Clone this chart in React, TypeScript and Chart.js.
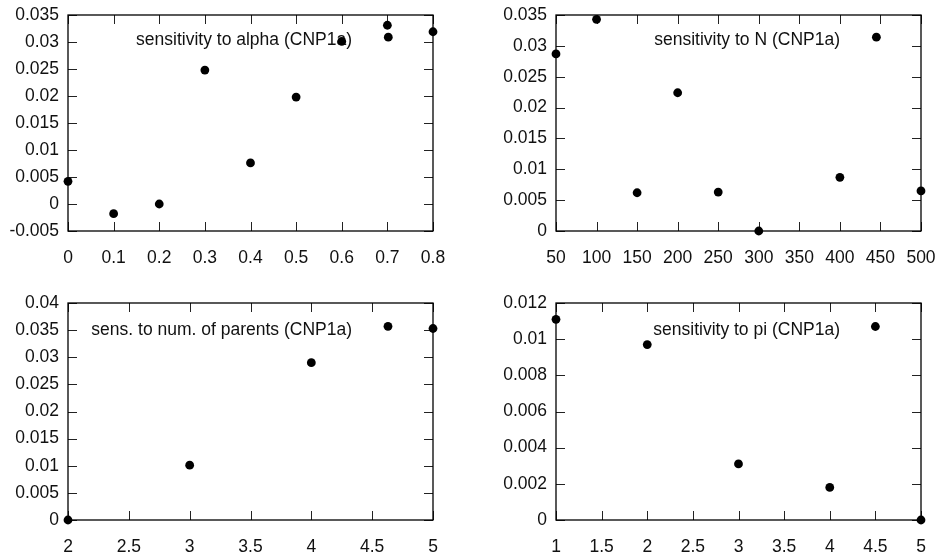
import { useEffect, useRef } from "react";
import { Chart, registerables } from "chart.js";

Chart.register(...registerables);

// ---- data ----
const alphaX = [0, 0.1, 0.2, 0.3, 0.4, 0.5, 0.6, 0.7, 0.702, 0.8];
const alphaY = [0.0042, -0.0018, 0, 0.0248, 0.0076, 0.0198, 0.0301, 0.0331, 0.0309, 0.0319];
const alphaXTicks = [0, 0.1, 0.2, 0.3, 0.4, 0.5, 0.6, 0.7, 0.8];
const alphaYTicks = [-0.005, 0, 0.005, 0.01, 0.015, 0.02, 0.025, 0.03, 0.035];

const nX = [50, 100, 150, 200, 250, 300, 400, 445, 500];
const nY = [0.0287, 0.0343, 0.0062, 0.0224, 0.0063, 0, 0.0087, 0.0314, 0.0065];
const nXTicks = [50, 100, 150, 200, 250, 300, 350, 400, 450, 500];
const nYTicks = [0, 0.005, 0.01, 0.015, 0.02, 0.025, 0.03, 0.035];

const parentsX = [2, 3, 4, 4.63, 5];
const parentsY = [0, 0.0101, 0.029, 0.0357, 0.0353];
const parentsXTicks = [2, 2.5, 3, 3.5, 4, 4.5, 5];
const parentsYTicks = [0, 0.005, 0.01, 0.015, 0.02, 0.025, 0.03, 0.035, 0.04];

const piX = [1, 2, 3, 4, 4.5, 5];
const piY = [0.0111, 0.0097, 0.0031, 0.0018, 0.0107, 0];
const piXTicks = [1, 1.5, 2, 2.5, 3, 3.5, 4, 4.5, 5];
const piYTicks = [0, 0.002, 0.004, 0.006, 0.008, 0.01, 0.012];

const titles = [
  "sensitivity to alpha (CNP1a)",
  "sensitivity to N (CNP1a)",
  "sens. to num. of parents (CNP1a)",
  "sensitivity to pi (CNP1a)",
];

const FONT = "'Liberation Sans', Arial, Helvetica, sans-serif";
const FONT_SIZE = 17.5;

type PanelCfg = {
  title: string;
  xs: number[];
  ys: number[];
  xTicks: number[];
  yTicks: number[];
  left: number;
  top: number;
  yAxisWidth: number;
  padRight: number;
  padTop: number;
  xAxisHeight: number;
  titleOffset: number;
};

const W = 469;
const H = 278;

const panels: PanelCfg[] = [
  { title: titles[0], xs: alphaX, ys: alphaY, xTicks: alphaXTicks, yTicks: alphaYTicks, left: 0, top: 0, yAxisWidth: 68, padRight: 36, padTop: 15, xAxisHeight: 47, titleOffset: 25 },
  { title: titles[1], xs: nX, ys: nY, xTicks: nXTicks, yTicks: nYTicks, left: 469, top: 0, yAxisWidth: 87, padRight: 17, padTop: 15, xAxisHeight: 47, titleOffset: 25 },
  { title: titles[2], xs: parentsX, ys: parentsY, xTicks: parentsXTicks, yTicks: parentsYTicks, left: 0, top: 278, yAxisWidth: 68, padRight: 36, padTop: 25, xAxisHeight: 36, titleOffset: 27 },
  { title: titles[3], xs: piX, ys: piY, xTicks: piXTicks, yTicks: piYTicks, left: 469, top: 278, yAxisWidth: 87, padRight: 17, padTop: 25, xAxisHeight: 36, titleOffset: 27 },
];

const fmt = (v: number) => String(parseFloat(Number(v).toFixed(6)));

function Panel({ cfg }: { cfg: PanelCfg }) {
  const ref = useRef<HTMLCanvasElement | null>(null);
  useEffect(() => {
    if (!ref.current) return;
    const framePlugin = {
      id: "gnuframe",
      beforeDatasetsDraw(chart: any) {
        const { ctx, chartArea } = chart;
        const { left, right, top, bottom } = chartArea;
        const xs = chart.scales.x;
        const ys = chart.scales.y;
        const TL = 9;
        ctx.save();
        // title
        ctx.fillStyle = "#111";
        ctx.font = `${FONT_SIZE}px ${FONT}`;
        ctx.textAlign = "right";
        ctx.textBaseline = "middle";
        ctx.fillText(cfg.title, right - 81, top + cfg.titleOffset);
        // ticks
        ctx.strokeStyle = "#222";
        ctx.lineWidth = 1;
        ctx.beginPath();
        for (const v of cfg.xTicks) {
          const p = Math.round(xs.getPixelForValue(v)) + 0.5;
          ctx.moveTo(p, bottom);
          ctx.lineTo(p, bottom - TL);
          ctx.moveTo(p, top);
          ctx.lineTo(p, top + TL);
        }
        for (const v of cfg.yTicks) {
          const p = Math.round(ys.getPixelForValue(v)) + 0.5;
          ctx.moveTo(left, p);
          ctx.lineTo(left + TL, p);
          ctx.moveTo(right, p);
          ctx.lineTo(right - TL, p);
        }
        ctx.stroke();
        // frame
        ctx.strokeStyle = "#000";
        ctx.lineWidth = 1.3;
        ctx.strokeRect(left, top, right - left, bottom - top);
        ctx.restore();
      },
    };
    const chart = new Chart(ref.current, {
      type: "scatter",
      data: {
        datasets: [
          {
            data: cfg.xs.map((x, i) => ({ x, y: cfg.ys[i] })),
            backgroundColor: "#000",
            borderColor: "#000",
            borderWidth: 0,
            pointRadius: 4.4,
            pointHoverRadius: 4.4,
            showLine: false,
            clip: false as any,
          },
        ],
      },
      options: {
        animation: false,
        responsive: false,
        events: [],
        layout: { padding: { top: cfg.padTop, right: cfg.padRight, left: 0, bottom: 0 } },
        plugins: { legend: { display: false }, tooltip: { enabled: false } },
        scales: {
          x: {
            type: "linear",
            min: cfg.xTicks[0],
            max: cfg.xTicks[cfg.xTicks.length - 1],
            afterBuildTicks: (s: any) => {
              s.ticks = cfg.xTicks.map((v) => ({ value: v }));
            },
            afterFit: (s: any) => {
              s.height = cfg.xAxisHeight;
              s.paddingLeft = 0;
              s.paddingRight = 0;
            },
            grid: { display: false, drawTicks: false },
            border: { display: false },
            ticks: {
              padding: 18,
              color: "#111",
              font: { family: FONT, size: FONT_SIZE, lineHeight: 1 },
              maxRotation: 0,
              autoSkip: false,
              callback: (v: any) => fmt(v),
            },
          },
          y: {
            type: "linear",
            min: cfg.yTicks[0],
            max: cfg.yTicks[cfg.yTicks.length - 1],
            afterBuildTicks: (s: any) => {
              s.ticks = cfg.yTicks.map((v) => ({ value: v }));
            },
            afterFit: (s: any) => {
              s.width = cfg.yAxisWidth;
              s.paddingTop = 0;
              s.paddingBottom = 0;
            },
            grid: { display: false, drawTicks: false },
            border: { display: false },
            ticks: {
              padding: 9,
              color: "#111",
              font: { family: FONT, size: FONT_SIZE, lineHeight: 1 },
              autoSkip: false,
              callback: (v: any) => fmt(v),
            },
          },
        },
      },
      plugins: [framePlugin],
    });
    return () => chart.destroy();
  }, [cfg]);
  return (
    <canvas
      ref={ref}
      width={W}
      height={H}
      style={{ position: "absolute", left: cfg.left, top: cfg.top, width: W, height: H, display: "block" }}
    />
  );
}

export default function App() {
  return (
    <div style={{ position: "absolute", left: 0, top: 0, width: 939, height: 556, background: "#fff" }}>
      {panels.map((p, i) => (
        <Panel key={i} cfg={p} />
      ))}
    </div>
  );
}
